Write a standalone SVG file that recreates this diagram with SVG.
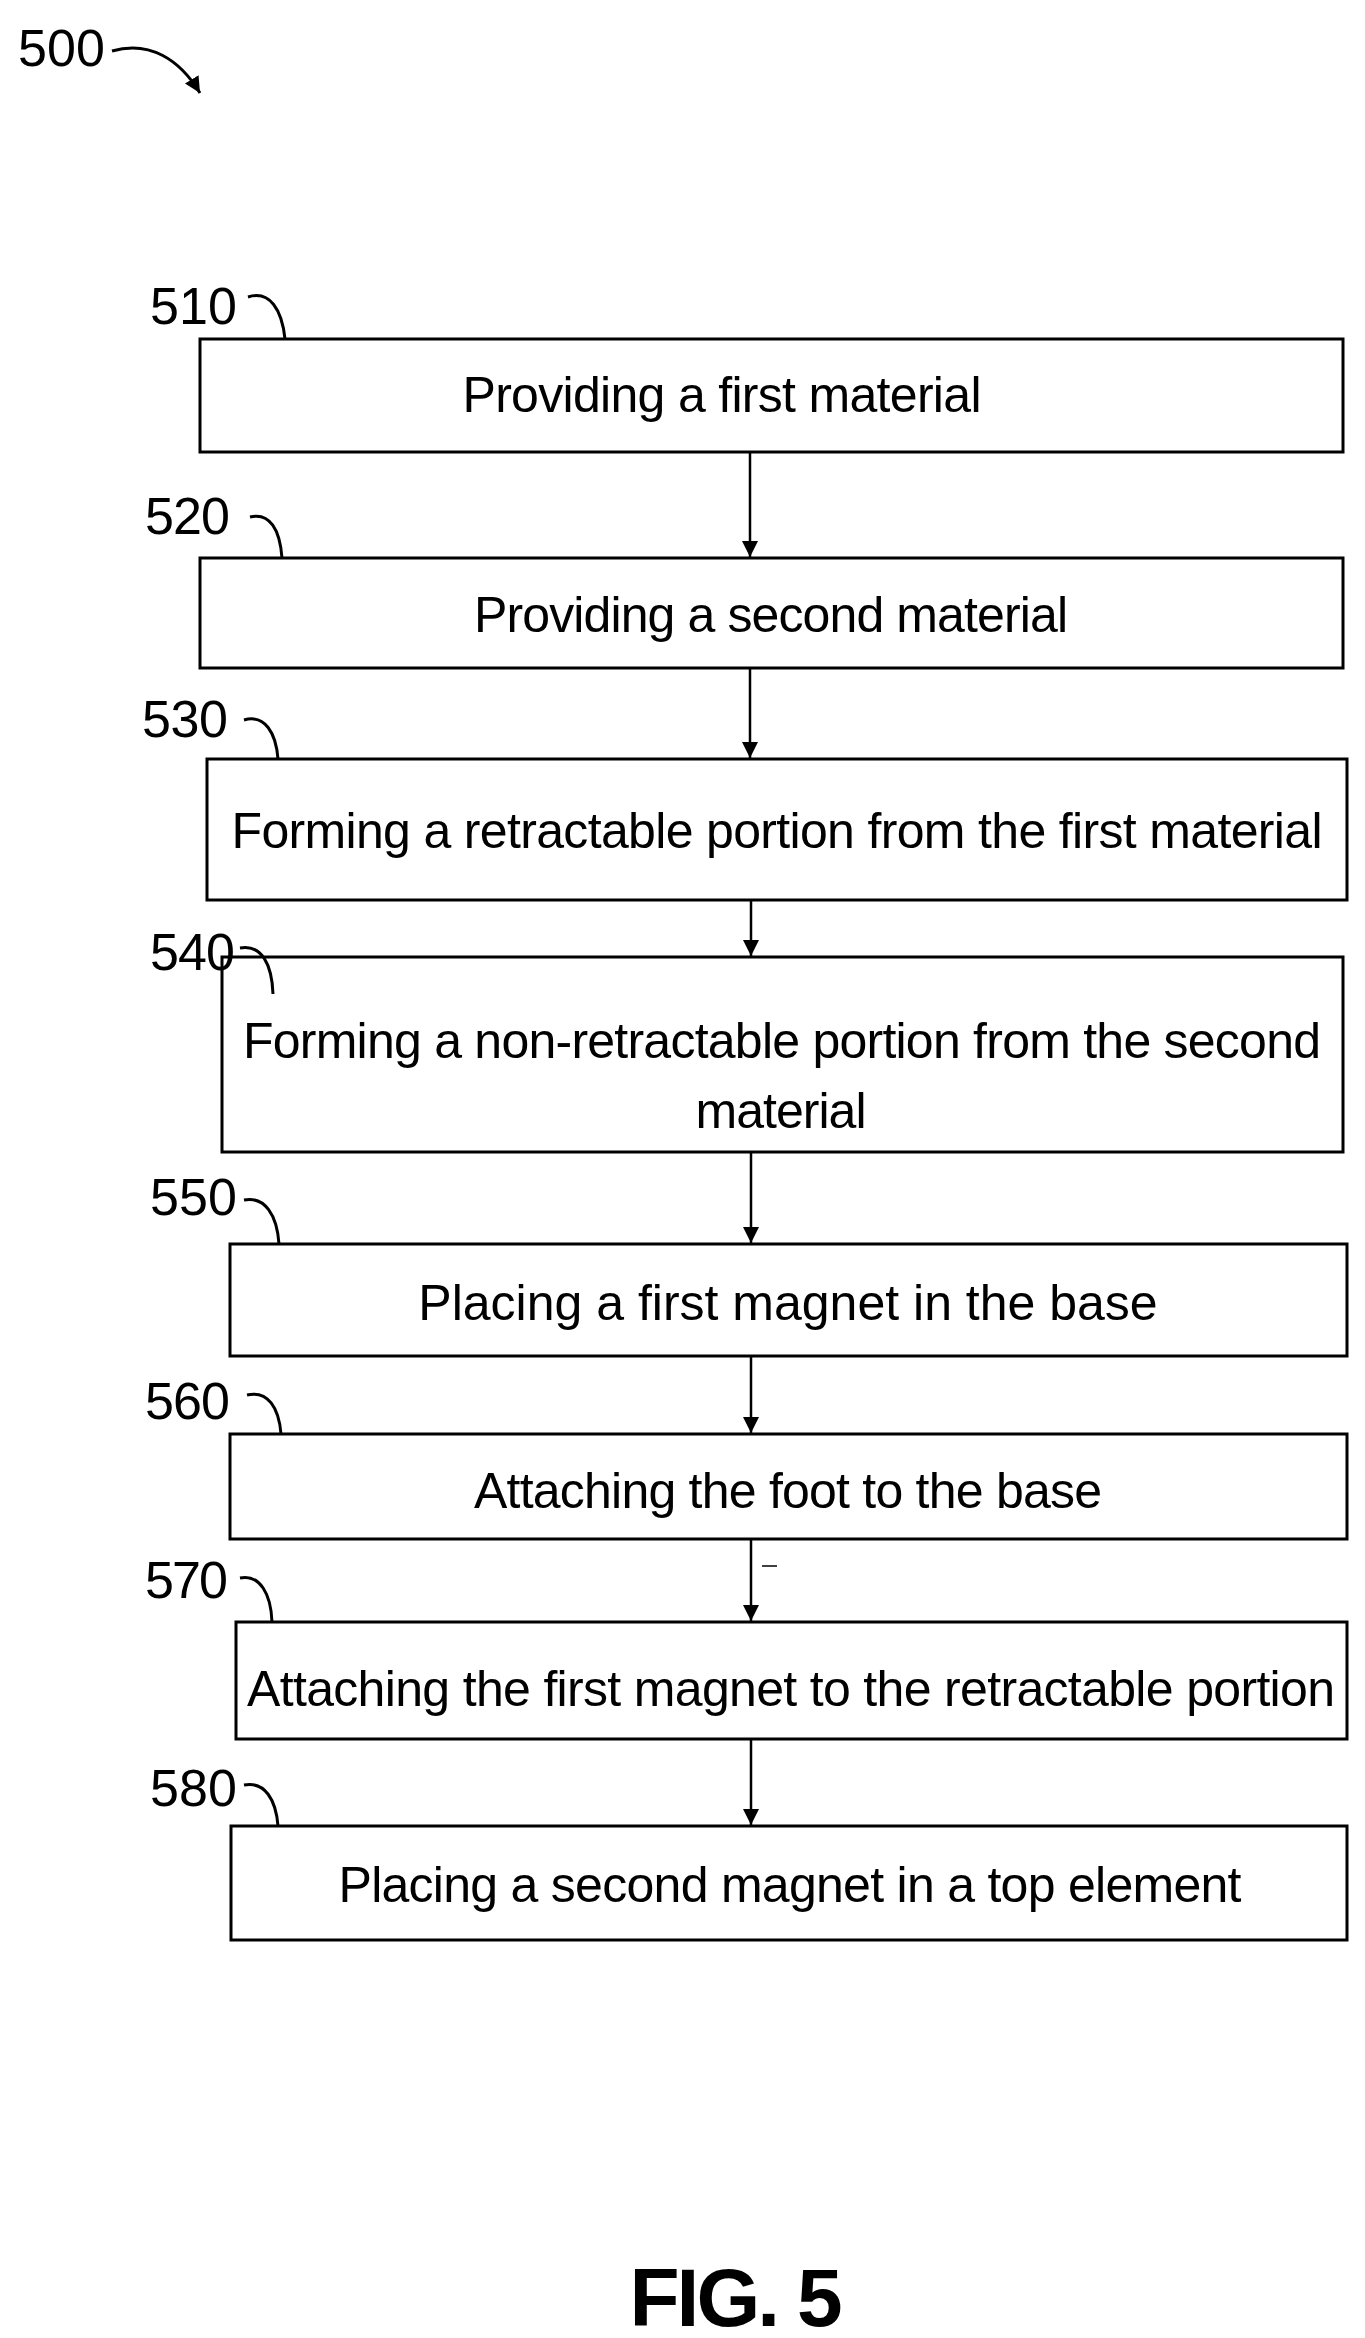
<svg xmlns="http://www.w3.org/2000/svg" width="1365" height="2338" viewBox="0 0 1365 2338">
<style>
.b{fill:#fff;stroke:#000;stroke-width:3}
.t{font-family:"Liberation Sans",Arial,sans-serif;font-size:50px;fill:#000}
.l{font-family:"Liberation Sans",Arial,sans-serif;font-size:52px;fill:#000}
.c{fill:none;stroke:#000;stroke-width:3}
</style>
<defs>
<marker id="A" viewBox="0 0 10 10" markerWidth="16" markerHeight="16" refX="10" refY="5" orient="auto" markerUnits="userSpaceOnUse"><path d="M0,0L10,5L0,10z"/></marker></defs>
<text class="l" x="18" y="66" textLength="87">500</text>
<path class="c" d="M112,51 C150,40 180,60 200,93" marker-end="url(#A)"/>
<g id="n510"><rect class="b" x="200" y="339" width="1143" height="113"/><text class="t" x="722" y="412" text-anchor="middle" textLength="519">Providing a first material</text><text class="l" x="150" y="324" textLength="87">510</text><path class="c" d="M248,297 C270,290 282,310 285,339"/></g>
<g id="n520"><rect class="b" x="200" y="558" width="1143" height="110"/><text class="t" x="771" y="632" text-anchor="middle" textLength="594">Providing a second material</text><text class="l" x="145" y="534" textLength="85">520</text><path class="c" d="M250,517 C270,512 280,530 282,558"/></g>
<g id="n530"><rect class="b" x="207" y="759" width="1140" height="141"/><text class="t" x="777" y="848" text-anchor="middle" textLength="1091">Forming a retractable portion from the first material</text><text class="l" x="142" y="737" textLength="86">530</text><path class="c" d="M244,720 C265,714 276,733 278,759"/></g>
<g id="n540"><rect class="b" x="222" y="957" width="1121" height="195"/><text class="t" x="782" y="1058" text-anchor="middle" textLength="1078">Forming a non-retractable portion from the second</text><text class="t" x="781" y="1128" text-anchor="middle" textLength="171">material</text><text class="l" x="150" y="970" textLength="85">540</text><path class="c" d="M240,948 C262,944 272,965 273,994"/></g>
<g id="n550"><rect class="b" x="230" y="1244" width="1117" height="112"/><text class="t" x="788" y="1320" text-anchor="middle">Placing a first magnet in the base</text><text class="l" x="150" y="1215" textLength="87">550</text><path class="c" d="M244,1200 C265,1196 277,1215 279,1244"/></g>
<g id="n560"><rect class="b" x="230" y="1434" width="1117" height="105"/><text class="t" x="788" y="1508" text-anchor="middle" textLength="628">Attaching the foot to the base</text><text class="l" x="145" y="1419" textLength="85">560</text><path class="c" d="M247,1395 C268,1390 279,1408 281,1434"/></g>
<g id="n570"><rect class="b" x="236" y="1622" width="1111" height="117"/><text class="t" x="791" y="1706" text-anchor="middle" textLength="1088">Attaching the first magnet to the retractable portion</text><text class="l" x="145" y="1598" textLength="83">570</text><path class="c" d="M240,1578 C260,1574 271,1594 272,1622"/></g>
<g id="n580"><rect class="b" x="231" y="1826" width="1116" height="114"/><text class="t" x="790" y="1902" text-anchor="middle" textLength="903">Placing a second magnet in a top element</text><text class="l" x="150" y="1806" textLength="87">580</text><path class="c" d="M244,1785 C265,1781 276,1800 278,1826"/></g>
<g id="connectors" stroke="#000" stroke-width="2.5">
<line x1="750" y1="452" x2="750" y2="557" marker-end="url(#A)"/>
<line x1="750" y1="668" x2="750" y2="758" marker-end="url(#A)"/>
<line x1="751" y1="900" x2="751" y2="956" marker-end="url(#A)"/>
<line x1="751" y1="1152" x2="751" y2="1243" marker-end="url(#A)"/>
<line x1="751" y1="1356" x2="751" y2="1433" marker-end="url(#A)"/>
<line x1="751" y1="1539" x2="751" y2="1621" marker-end="url(#A)"/>
<line x1="751" y1="1739" x2="751" y2="1825" marker-end="url(#A)"/>
<line x1="762" y1="1566" x2="777" y2="1566" stroke-width="1.5"/>
</g>
<text x="736" y="2326" text-anchor="middle" font-family="Liberation Sans,Arial,sans-serif" font-weight="bold" font-size="82" textLength="213">FIG. 5</text>
</svg>
